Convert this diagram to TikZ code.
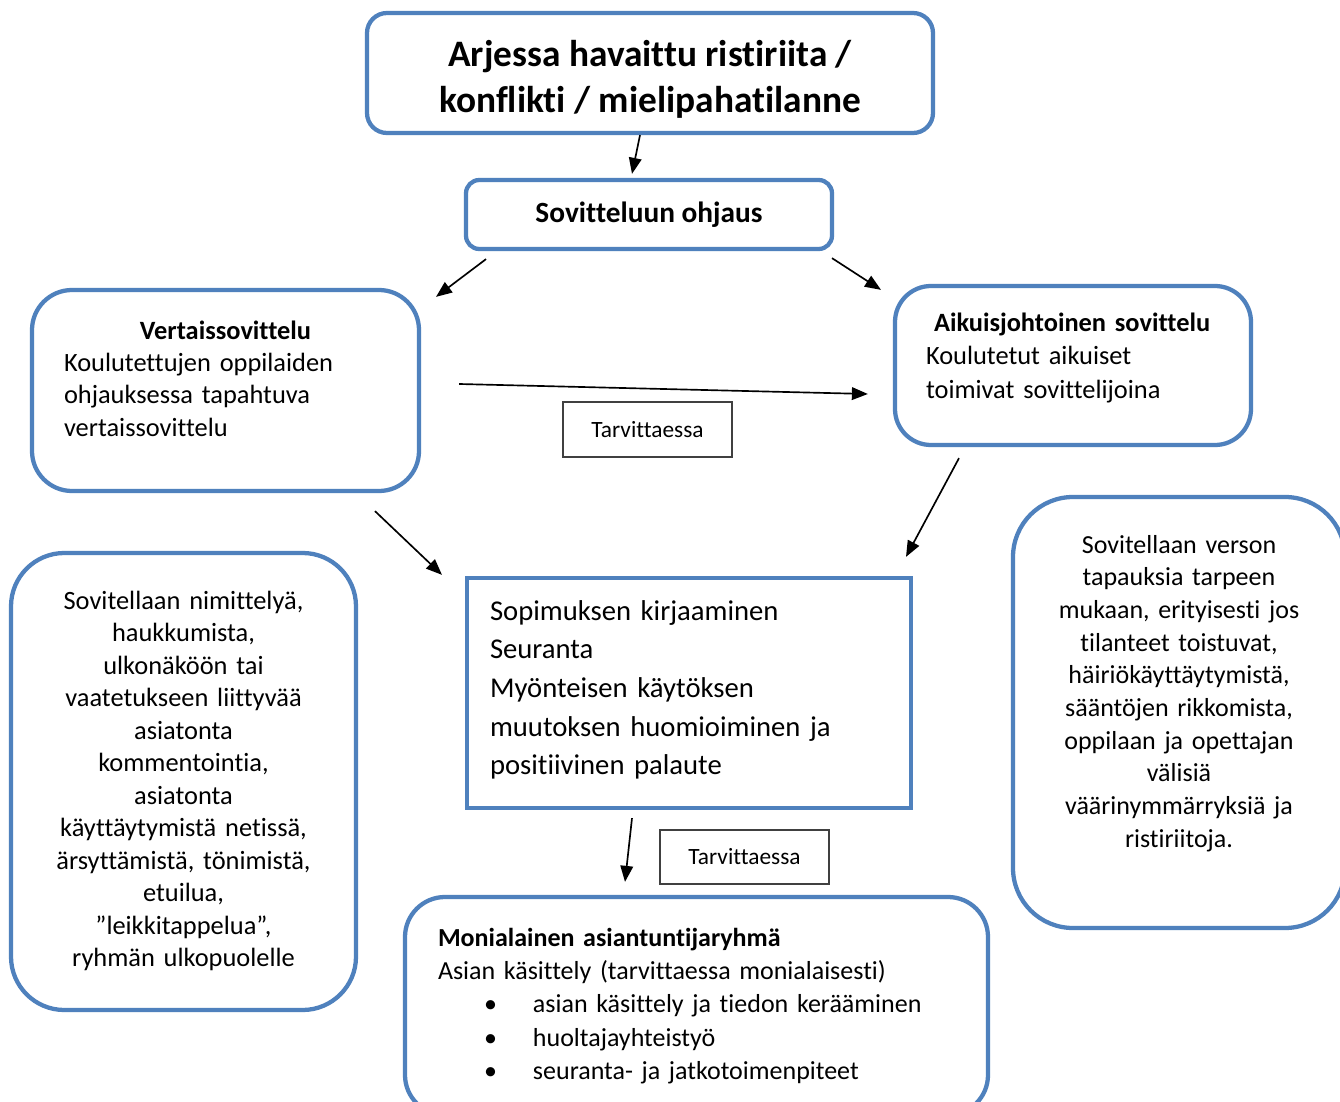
\documentclass[tikz,border=0pt]{standalone}
\usepackage{fontspec}
\setmainfont{Carlito}[Ligatures={NoCommon}]
\usetikzlibrary{arrows.meta,calc}
\definecolor{boxblue}{RGB}{79,129,189}
\newdimen\pxu \pxu=0.75pt
\begin{document}
\begin{tikzpicture}[x=0.75pt,y=-0.75pt,
  rbox/.style={draw=boxblue, line width=3.2pt, rounded corners=#1, fill=white, inner sep=0pt},
  rbox/.default=15pt,
  sbox/.style={draw=boxblue, line width=3.2pt, fill=white, inner sep=0pt},
  tagbox/.style={draw=black!75, line width=0.8pt, fill=white, inner sep=0pt, font=\fontsize{17.5pt}{20pt}\selectfont},
  arr/.style={line width=1.25pt, -{Triangle[length=12pt,width=9.5pt]}}
]
\path[use as bounding box, clip] (0,0) rectangle (1340,1102);
\fill[white] (0,0) rectangle (1340,1102);

% top
\node[rbox=15pt, minimum width=566\pxu, minimum height=120\pxu, align=center,
  font=\fontsize{28pt}{34.5pt}\selectfont\bfseries] (top) at (650,73)
  {\rule{0pt}{29pt}Arjessa havaittu ristiriita /\\ konflikti / mielipahatilanne};

\node[rbox=10pt, minimum width=366\pxu, minimum height=69\pxu,
  font=\fontsize{22pt}{24pt}\selectfont\bfseries] (ohj) at (649,214.5) {Sovitteluun ohjaus};

\node[rbox=30pt, minimum width=387\pxu, minimum height=201\pxu, text width=323\pxu, align=left,
  font=\fontsize{19.8pt}{24.25pt}\selectfont] (vert) at (225.5,390.5)
  {\makebox[\linewidth]{\bfseries Vertaissovittelu}\\ Koulutettujen oppilaiden\\ ohjauksessa tapahtuva\\ vertaissovittelu\rule[-18pt]{0pt}{0pt}};

\node[rbox=27pt, minimum width=356\pxu, minimum height=159\pxu, text width=294\pxu, align=left,
  font=\fontsize{19.8pt}{25pt}\selectfont] (aik) at (1073,365.5)
  {\hspace*{8\pxu}\textbf{Aikuisjohtoinen sovittelu}\\ Koulutetut aikuiset\\ toimivat sovittelijoina\rule[-15pt]{0pt}{0pt}};

\node[tagbox, minimum width=169\pxu, minimum height=55\pxu] (tv1) at (647.5,429.5) {Tarvittaessa};

\node[sbox, minimum width=444\pxu, minimum height=230\pxu, text width=398\pxu, align=left,
  font=\fontsize{21.5pt}{29pt}\selectfont] (mid) at (689,693)
  {Sopimuksen kirjaaminen\\ Seuranta\\ Myönteisen käytöksen\\ muutoksen huomioiminen ja\\ positiivinen palaute\rule[-8pt]{0pt}{0pt}};

\node[tagbox, minimum width=169\pxu, minimum height=54\pxu] (tv2) at (744.5,857) {Tarvittaessa};

\node[rbox=30pt, minimum width=583\pxu, minimum height=218\pxu, text width=517\pxu, align=left,
  font=\fontsize{19.5pt}{25pt}\selectfont] (bot) at (696.5,1006)
  {\textbf{Monialainen asiantuntijaryhmä}\\ Asian käsittely (tarvittaessa monialaisesti)\\
   \hspace*{46\pxu}\makebox[49\pxu][l]{\textbullet}asian käsittely ja tiedon kerääminen\\
   \hspace*{46\pxu}\makebox[49\pxu][l]{\textbullet}huoltajayhteistyö\\
   \hspace*{46\pxu}\makebox[49\pxu][l]{\textbullet}seuranta- ja jatkotoimenpiteet};

\node[rbox=40pt, minimum width=345\pxu, minimum height=457\pxu, text width=330\pxu, align=center,
  font=\fontsize{19.8pt}{24.4pt}\selectfont] (left) at (183.5,781.5)
  {Sovitellaan nimittelyä,\\ haukkumista,\\ ulkonäköön tai\\ vaatetukseen liittyvää\\ asiatonta\\ kommentointia,\\ asiatonta\\ käyttäytymistä netissä,\\ ärsyttämistä, tönimistä,\\ etuilua,\\ ”leikkitappelua”,\\ ryhmän ulkopuolelle\rule[-4pt]{0pt}{0pt}};

\node[rbox=45pt, minimum width=332\pxu, minimum height=431\pxu, text width=310\pxu, align=center,
  font=\fontsize{19.5pt}{24.5pt}\selectfont] (right) at (1179,712.5)
  {Sovitellaan verson\\ tapauksia tarpeen\\ mukaan, erityisesti jos\\ tilanteet toistuvat,\\ häiriökäyttäytymistä,\\ sääntöjen rikkomista,\\ oppilaan ja opettajan\\ välisiä\\ väärinymmärryksiä ja\\ ristiriitoja.\rule[-32pt]{0pt}{0pt}};

% connectors
\draw[arr] ($(top.south)+(-10,0)$) -- ($(ohj.north)+(-17,-4)$);
\draw[arr] ($(ohj.south)+(-163,8)$) -- ($(vert.north)+(210.5,9)$);
\draw[arr] ($(ohj.south)+(183,7)$) -- ($(aik.north)+(-192,6)$);
\draw[arr] ($(vert.east)+(38,-6.5)$) -- ($(aik.west)+(-25,28.5)$);
\draw[arr] ($(vert.south)+(149.5,18)$) -- ($(mid.north)+(-247,-1)$);
\draw[arr] ($(aik.south)+(-114,11)$) -- ($(mid.north)+(217,-19)$);
\draw[arr] ($(mid.south)+(-57,8)$) -- ($(bot.north)+(-71.5,-13)$);
\end{tikzpicture}
\end{document}
